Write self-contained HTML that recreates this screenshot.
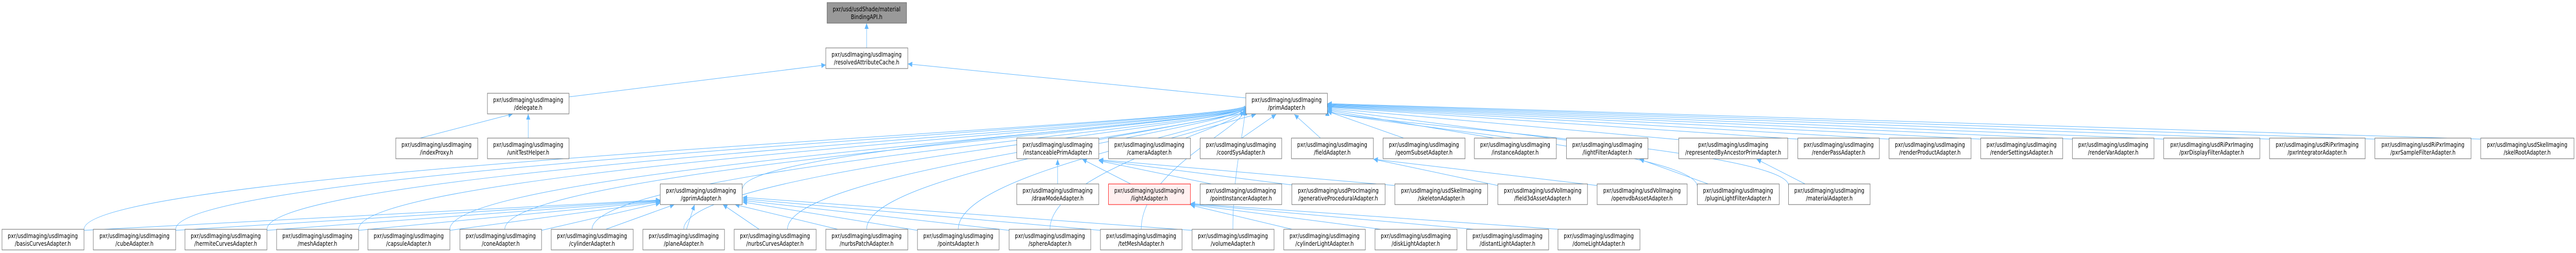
<!DOCTYPE html>
<html><head><meta charset="utf-8"><style>
html,body{margin:0;padding:0;background:#fff;width:100%;height:100%;overflow:hidden;}
svg{display:block;width:100vw;height:100vh;}
text{font-family:"DejaVu Sans","Liberation Sans",sans-serif;font-size:12.4px;fill:#000;}
.n{fill:#fff;stroke:#666;stroke-width:1;}
.e{fill:none;stroke:#63b8ff;stroke-width:1;}
</style></head><body>
<svg id="g" viewBox="0 0 6379 491" preserveAspectRatio="none" xmlns="http://www.w3.org/2000/svg">
<defs><marker id="a" markerUnits="userSpaceOnUse" markerWidth="12" markerHeight="10" refX="11" refY="5" orient="auto"><path d="M0,0 L11,5 L0,10 z" fill="#63b8ff"/></marker></defs>
<g id="edges"></g>
<g text-anchor="middle">
<rect x="2048" y="5" width="197" height="40" fill="#999" stroke="#666"/>
<text x="2146" y="22">pxr/usd/usdShade/material</text><text x="2146" y="37">BindingAPI.h</text>

<rect class="n" x="2045" y="93" width="203" height="40"/><text x="2146" y="110">pxr/usdImaging/usdImaging</text><text x="2146" y="125">/resolvedAttributeCache.h</text>

<rect class="n" x="1207" y="181" width="202" height="40"/><text x="1308" y="198">pxr/usdImaging/usdImaging</text><text x="1308" y="213">/delegate.h</text>
<rect class="n" x="3085" y="181" width="202" height="40"/><text x="3186" y="198">pxr/usdImaging/usdImaging</text><text x="3186" y="213">/primAdapter.h</text>

<rect class="n" x="980" y="268" width="203" height="40"/><text x="1081" y="285">pxr/usdImaging/usdImaging</text><text x="1081" y="300">/indexProxy.h</text>
<rect class="n" x="1207" y="268" width="202" height="40"/><text x="1308" y="285">pxr/usdImaging/usdImaging</text><text x="1308" y="300">/unitTestHelper.h</text>
<rect class="n" x="2518" y="268" width="203" height="40"/><text x="2619" y="285">pxr/usdImaging/usdImaging</text><text x="2619" y="300">/instanceablePrimAdapter.h</text>
<rect class="n" x="2745" y="268" width="203" height="40"/><text x="2846" y="285">pxr/usdImaging/usdImaging</text><text x="2846" y="300">/cameraAdapter.h</text>
<rect class="n" x="2972" y="268" width="202" height="40"/><text x="3073" y="285">pxr/usdImaging/usdImaging</text><text x="3073" y="300">/coordSysAdapter.h</text>
<rect class="n" x="3198" y="268" width="203" height="40"/><text x="3299" y="285">pxr/usdImaging/usdImaging</text><text x="3299" y="300">/fieldAdapter.h</text>
<rect class="n" x="3425" y="268" width="203" height="40"/><text x="3526" y="285">pxr/usdImaging/usdImaging</text><text x="3526" y="300">/geomSubsetAdapter.h</text>
<rect class="n" x="3651" y="268" width="203" height="40"/><text x="3752" y="285">pxr/usdImaging/usdImaging</text><text x="3752" y="300">/instanceAdapter.h</text>
<rect class="n" x="3879" y="268" width="202" height="40"/><text x="3980" y="285">pxr/usdImaging/usdImaging</text><text x="3980" y="300">/lightFilterAdapter.h</text>
<rect class="n" x="4157" y="268" width="270" height="40"/><text x="4292" y="285">pxr/usdImaging/usdImaging</text><text x="4292" y="300">/representedByAncestorPrimAdapter.h</text>
<rect class="n" x="4452" y="268" width="202" height="40"/><text x="4553" y="285">pxr/usdImaging/usdImaging</text><text x="4553" y="300">/renderPassAdapter.h</text>
<rect class="n" x="4678" y="268" width="203" height="40"/><text x="4779" y="285">pxr/usdImaging/usdImaging</text><text x="4779" y="300">/renderProductAdapter.h</text>
<rect class="n" x="4905" y="268" width="203" height="40"/><text x="5006" y="285">pxr/usdImaging/usdImaging</text><text x="5006" y="300">/renderSettingsAdapter.h</text>
<rect class="n" x="5132" y="268" width="202" height="40"/><text x="5233" y="285">pxr/usdImaging/usdImaging</text><text x="5233" y="300">/renderVarAdapter.h</text>
<rect class="n" x="5358" y="268" width="238" height="40"/><text x="5477" y="285">pxr/usdImaging/usdRiPxrImaging</text><text x="5477" y="300">/pxrDisplayFilterAdapter.h</text>
<rect class="n" x="5620" y="268" width="237" height="40"/><text x="5738" y="285">pxr/usdImaging/usdRiPxrImaging</text><text x="5738" y="300">/pxrIntegratorAdapter.h</text>
<rect class="n" x="5881" y="268" width="238" height="40"/><text x="6000" y="285">pxr/usdImaging/usdRiPxrImaging</text><text x="6000" y="300">/pxrSampleFilterAdapter.h</text>
<rect class="n" x="6143" y="268" width="231" height="40"/><text x="6258" y="285">pxr/usdImaging/usdSkelImaging</text><text x="6258" y="300">/skelRootAdapter.h</text>

<rect class="n" x="1635" y="357" width="203" height="40"/><text x="1736" y="374">pxr/usdImaging/usdImaging</text><text x="1736" y="389">/gprimAdapter.h</text>
<rect class="n" x="2518" y="357" width="203" height="40"/><text x="2619" y="374">pxr/usdImaging/usdImaging</text><text x="2619" y="389">/drawModeAdapter.h</text>
<rect x="2745" y="357" width="203" height="40" fill="#fff0f0" stroke="#f00"/><text x="2846" y="374">pxr/usdImaging/usdImaging</text><text x="2846" y="389">/lightAdapter.h</text>
<rect class="n" x="2972" y="357" width="202" height="40"/><text x="3073" y="374">pxr/usdImaging/usdImaging</text><text x="3073" y="389">/pointInstancerAdapter.h</text>
<rect class="n" x="3199" y="357" width="231" height="40"/><text x="3314" y="374">pxr/usdImaging/usdProcImaging</text><text x="3314" y="389">/generativeProceduralAdapter.h</text>
<rect class="n" x="3454" y="357" width="230" height="40"/><text x="3569" y="374">pxr/usdImaging/usdSkelImaging</text><text x="3569" y="389">/skeletonAdapter.h</text>
<rect class="n" x="3709" y="357" width="222" height="40"/><text x="3820" y="374">pxr/usdImaging/usdVolImaging</text><text x="3820" y="389">/field3dAssetAdapter.h</text>
<rect class="n" x="3955" y="357" width="223" height="40"/><text x="4066" y="374">pxr/usdImaging/usdVolImaging</text><text x="4066" y="389">/openvdbAssetAdapter.h</text>
<rect class="n" x="4203" y="357" width="203" height="40"/><text x="4304" y="374">pxr/usdImaging/usdImaging</text><text x="4304" y="389">/pluginLightFilterAdapter.h</text>
<rect class="n" x="4429" y="357" width="202" height="40"/><text x="4530" y="374">pxr/usdImaging/usdImaging</text><text x="4530" y="389">/materialAdapter.h</text>

<rect class="n" x="5" y="445" width="203" height="40"/><text x="106" y="462">pxr/usdImaging/usdImaging</text><text x="106" y="477">/basisCurvesAdapter.h</text>
<rect class="n" x="231" y="445" width="204" height="40"/><text x="333" y="462">pxr/usdImaging/usdImaging</text><text x="333" y="477">/cubeAdapter.h</text>
<rect class="n" x="458" y="445" width="203" height="40"/><text x="559" y="462">pxr/usdImaging/usdImaging</text><text x="559" y="477">/hermiteCurvesAdapter.h</text>
<rect class="n" x="685" y="445" width="203" height="40"/><text x="786" y="462">pxr/usdImaging/usdImaging</text><text x="786" y="477">/meshAdapter.h</text>
<rect class="n" x="911" y="445" width="203" height="40"/><text x="1012" y="462">pxr/usdImaging/usdImaging</text><text x="1012" y="477">/capsuleAdapter.h</text>
<rect class="n" x="1139" y="445" width="202" height="40"/><text x="1240" y="462">pxr/usdImaging/usdImaging</text><text x="1240" y="477">/coneAdapter.h</text>
<rect class="n" x="1365" y="445" width="203" height="40"/><text x="1466" y="462">pxr/usdImaging/usdImaging</text><text x="1466" y="477">/cylinderAdapter.h</text>
<rect class="n" x="1592" y="445" width="202" height="40"/><text x="1693" y="462">pxr/usdImaging/usdImaging</text><text x="1693" y="477">/planeAdapter.h</text>
<rect class="n" x="1818" y="445" width="203" height="40"/><text x="1919" y="462">pxr/usdImaging/usdImaging</text><text x="1919" y="477">/nurbsCurvesAdapter.h</text>
<rect class="n" x="2045" y="445" width="203" height="40"/><text x="2146" y="462">pxr/usdImaging/usdImaging</text><text x="2146" y="477">/nurbsPatchAdapter.h</text>
<rect class="n" x="2272" y="445" width="202" height="40"/><text x="2373" y="462">pxr/usdImaging/usdImaging</text><text x="2373" y="477">/pointsAdapter.h</text>
<rect class="n" x="2499" y="445" width="202" height="40"/><text x="2600" y="462">pxr/usdImaging/usdImaging</text><text x="2600" y="477">/sphereAdapter.h</text>
<rect class="n" x="2725" y="445" width="202" height="40"/><text x="2826" y="462">pxr/usdImaging/usdImaging</text><text x="2826" y="477">/tetMeshAdapter.h</text>
<rect class="n" x="2952" y="445" width="203" height="40"/><text x="3053" y="462">pxr/usdImaging/usdImaging</text><text x="3053" y="477">/volumeAdapter.h</text>
<rect class="n" x="3179" y="445" width="202" height="40"/><text x="3280" y="462">pxr/usdImaging/usdImaging</text><text x="3280" y="477">/cylinderLightAdapter.h</text>
<rect class="n" x="3405" y="445" width="203" height="40"/><text x="3506" y="462">pxr/usdImaging/usdImaging</text><text x="3506" y="477">/diskLightAdapter.h</text>
<rect class="n" x="3632" y="445" width="203" height="40"/><text x="3733" y="462">pxr/usdImaging/usdImaging</text><text x="3733" y="477">/distantLightAdapter.h</text>
<rect class="n" x="3858" y="445" width="203" height="40"/><text x="3959" y="462">pxr/usdImaging/usdImaging</text><text x="3959" y="477">/domeLightAdapter.h</text>
</g>
</svg>
<script>
var E=[
[2146,93,2146,45],[1409,188,2045,126],[3085,190,2248,124],
[1040,268,1270,221],[1308,268,1308,221],
[1839,366,3083,210],[2721,271,3083,219],[2900,268,3110,222],[3075,268,3160,222],[3270,268,3205,222],
[3476,268,3287,216],[3700,268,3287,214],[3879,272,3287,212],[4157,271,3287,210],[4452,270,3287,208],[4678,270,3287,207],
[4905,270,3287,206],[5132,270,3287,205],[5358,270,3287,204],[5620,270,3287,203],[5881,270,3287,202],[6143,270,3287,201],
[208,447,1635,388],[435,447,1635,389],[661,447,1635,390],[888,447,1635,391],[1114,447,1635,392],[1341,447,1635,394],
[1500,445,1670,397],[1700,445,1720,397],[1880,445,1790,397],[2075,445,1820,397],
[2272,447,1839,392],[2499,447,1839,389],[2725,447,1839,386],[2952,447,1839,383],
[208,445,3083,205],[435,445,3083,205],[661,445,3083,206],[888,445,3083,206],[1114,445,3083,207],
[1250,445,3083,207],[1466,445,3083,208],[1693,445,3083,208],[1950,445,3083,209],[2146,445,3083,209],
[2373,445,3083,211],[2600,445,3083,211],[2826,445,3083,212],[3053,445,3083,213],
[2619,357,2619,309],[2800,357,2680,309],[3000,357,2721,312],[3210,360,2721,311],[3454,360,2721,310],
[3709,360,3401,309],[3955,360,3401,309],[4230,357,4060,309],[4470,357,4350,309],
[3200,445,2948,398],[3420,445,2948,397],[3650,445,2948,396],[3860,445,2948,395],
[4203,362,3287,213],[4429,360,3287,214]
];
var g=document.getElementById('edges'),s='';
E.forEach(function(e){var m=(e[1]+e[3])/2;
var d=Math.abs(e[1]-e[3])<70?('M'+e[0]+','+e[1]+' L'+e[2]+','+e[3]):('M'+e[0]+','+e[1]+' C'+e[0]+','+m+' '+e[2]+','+(e[3]+(e[1]-e[3])*0.15)+' '+e[2]+','+e[3]);
s+='<path class="e" d="'+d+'" marker-end="url(#a)"/>';});
g.innerHTML=s;
</script>
</body></html>
